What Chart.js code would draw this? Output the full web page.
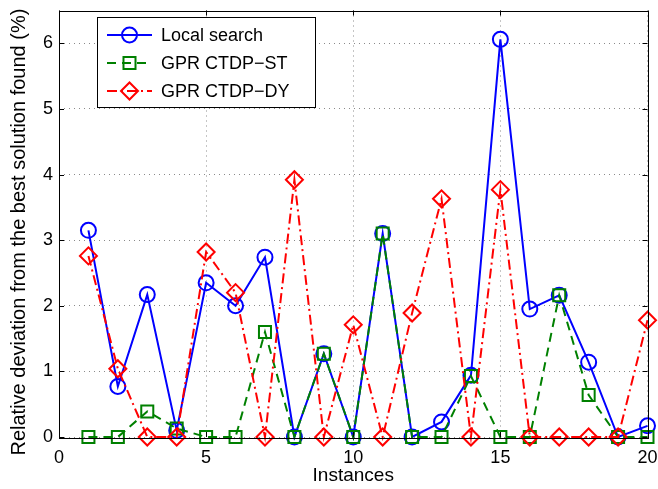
<!DOCTYPE html>
<html>
<head>
<meta charset="utf-8">
<script src="https://cdn.jsdelivr.net/npm/chart.js@4"></script>
<style>
  html, body { margin: 0; padding: 0; background: #fff; }
  canvas { display: block; }
</style>
</head>
<body>
<canvas id="canvas_deviation" width="658" height="489"></canvas>
<script>
// instances on the x axis
var instances = [1, 2, 3, 4, 5, 6, 7, 8, 9, 10, 11, 12, 13, 14, 15, 16, 17, 18, 19, 20];

// relative deviation from best solution found (%)
var localSearch = [3.15, 0.77, 2.17, 0.10, 2.35, 2.00, 2.74, 0, 1.27, 0, 3.10, 0, 0.23, 0.94, 6.06, 1.95, 2.16, 1.14, 0, 0.17];
var ctdpST      = [0, 0, 0.39, 0.13, 0, 0, 1.60, 0, 1.27, 0, 3.10, 0, 0, 0.93, 0, 0, 2.16, 0.64, 0, 0];
var ctdpDY      = [2.76, 1.04, 0, 0, 2.82, 2.20, 0, 3.92, 0, 1.71, 0, 1.89, 3.63, 0, 3.77, 0, 0, 0, 0, 1.78];

var xTicks = [0, 5, 10, 15, 20];
var yTicks = [0, 1, 2, 3, 4, 5, 6];

var FONT = "'Liberation Sans', Arial, Helvetica, sans-serif";

function series(label, values, color, dash, style, radius, order) {
  return {
    label: label,
    data: values,
    borderColor: color,
    borderWidth: 2,
    borderDash: dash,
    pointStyle: style,
    pointRadius: radius,
    pointBorderColor: color,
    pointBackgroundColor: 'rgba(0,0,0,0)',
    pointBorderWidth: 2,
    tension: 0,
    fill: false,
    clip: false,
    order: order
  };
}

// box around the axes with inward tick marks on all four sides
var framePlugin = {
  id: 'frame',
  afterDatasetsDraw: function (chart) {
    var ctx = chart.ctx, a = chart.chartArea;
    var xs = chart.scales.x, ys = chart.scales.y;
    var tl = 5;
    ctx.save();
    ctx.strokeStyle = '#000';
    ctx.lineWidth = 1;
    ctx.setLineDash([]);
    ctx.beginPath();
    xTicks.forEach(function (v) {
      var px = Math.round(xs.getPixelForValue(v)) + 0.5;
      ctx.moveTo(px, a.bottom); ctx.lineTo(px, a.bottom - tl);
      ctx.moveTo(px, a.top); ctx.lineTo(px, a.top + tl);
    });
    yTicks.forEach(function (v) {
      var py = Math.round(ys.getPixelForValue(v)) + 0.5;
      ctx.moveTo(a.left, py); ctx.lineTo(a.left + tl, py);
      ctx.moveTo(a.right, py); ctx.lineTo(a.right - tl, py);
    });
    ctx.stroke();
    ctx.strokeRect(Math.round(a.left) + 0.5, Math.round(a.top) + 0.5,
                   Math.round(a.right - a.left), Math.round(a.bottom - a.top));
    ctx.restore();
  }
};

// boxed legend in the upper left of the plot
var legendPlugin = {
  id: 'boxLegend',
  afterDraw: function (chart) {
    var ctx = chart.ctx;
    var bx = 97.5, by = 17.5, bw = 218, bh = 90;
    var rows = [35, 63, 91];
    ctx.save();
    ctx.fillStyle = '#fff';
    ctx.fillRect(bx, by, bw, bh);
    ctx.strokeStyle = '#000';
    ctx.lineWidth = 1;
    ctx.strokeRect(bx, by, bw, bh);
    chart.data.datasets.forEach(function (ds, i) {
      var y = rows[i];
      ctx.strokeStyle = ds.borderColor;
      ctx.lineWidth = 2;
      ctx.setLineDash(ds.borderDash || []);
      ctx.beginPath();
      ctx.moveTo(107, y);
      ctx.lineTo(152, y);
      ctx.stroke();
      ctx.setLineDash([]);
      ctx.fillStyle = 'rgba(0,0,0,0)';
      Chart.helpers.drawPoint(ctx, {
        pointStyle: ds.pointStyle,
        radius: ds.pointRadius,
        rotation: 0,
        borderWidth: 2
      }, 129.5, y);
      ctx.fillStyle = '#000';
      ctx.font = '18px ' + FONT;
      ctx.textBaseline = 'middle';
      ctx.textAlign = 'left';
      ctx.fillText(ds.label, 161, y + 1);
    });
    ctx.restore();
  }
};

function drawDeviationChart() {
  var ctx = document.getElementById('canvas_deviation');
  new Chart(ctx, {
    type: 'line',
    data: {
      labels: instances,
      datasets: [
        series('Local search', localSearch, '#0000ff', [], 'circle', 7.5, 3),
        series('GPR CTDP\u2212ST', ctdpST, '#008000', [9, 6], 'rect', 8.5, 2),
        series('GPR CTDP\u2212DY', ctdpDY, '#ff0000', [10, 4, 2, 4], 'rectRot', 8.5, 1)
      ]
    },
    options: {
      responsive: false,
      animation: false,
      devicePixelRatio: 1,
      layout: { padding: { top: 10, right: 10, left: 0, bottom: 0 } },
      plugins: {
        legend: { display: false },
        tooltip: { enabled: false }
      },
      scales: {
        x: {
          type: 'linear',
          min: 0,
          max: 20,
          afterFit: function (s) {
            s.height = 52;
            s.paddingLeft = 0;
            s.paddingRight = 0;
          },
          afterBuildTicks: function (s) {
            s.ticks = xTicks.map(function (v) { return { value: v }; });
          },
          ticks: {
            stepSize: 5,
            padding: 10,
            maxRotation: 0,
            color: '#000',
            font: { family: FONT, size: 18 }
          },
          grid: { color: '#8a8a8a', lineWidth: 1, drawTicks: false },
          border: { display: false, dash: [1, 4] },
          title: {
            display: true,
            text: 'Instances',
            color: '#000',
            font: { family: FONT, size: 19 },
            padding: { top: 0, bottom: 2 }
          }
        },
        y: {
          min: 0,
          max: 6.5,
          afterFit: function (s) {
            s.width = 59;
            s.paddingTop = 0;
            s.paddingBottom = 0;
          },
          afterBuildTicks: function (s) {
            s.ticks = yTicks.map(function (v) { return { value: v }; });
          },
          ticks: {
            stepSize: 1,
            padding: 6,
            color: '#000',
            font: { family: FONT, size: 18 }
          },
          grid: { color: '#8a8a8a', lineWidth: 1, drawTicks: false },
          border: { display: false, dash: [1, 4] },
          title: {
            display: true,
            text: 'Relative deviation from the best solution found (%)   ',
            color: '#000',
            font: { family: FONT, size: 20 },
            padding: { top: 7, bottom: 0 }
          }
        }
      }
    },
    plugins: [framePlugin, legendPlugin]
  });
}

drawDeviationChart();
</script>
</body>
</html>
